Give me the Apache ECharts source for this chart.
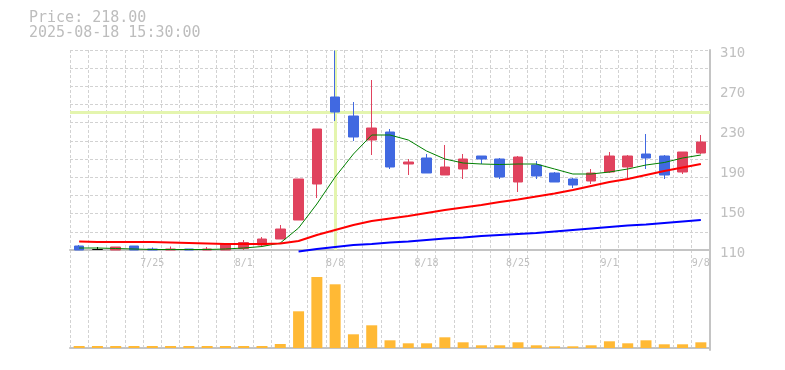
<!DOCTYPE html>
<html>
<head>
<meta charset="utf-8">
<script src="https://cdn.jsdelivr.net/npm/echarts@6/dist/echarts.min.js"></script>
<style>
html,body{margin:0;padding:0;background:#fff;}
#chart{width:785px;height:370px;}
</style>
</head>
<body>
<div id="chart"></div>
<script>
var dates = ['7/18','7/22','7/23','7/24','7/25','7/28','7/29','7/30','7/31','8/1',
  '8/4','8/5','8/6','8/7','8/8','8/12','8/13','8/14','8/15','8/18',
  '8/19','8/20','8/21','8/22','8/25','8/26','8/27','8/28','8/29','9/1',
  '9/2','9/3','9/4','9/5','9/8'];
var opens  = [114,110.5,110,114,111,110,111,110,110,111.5,115,121,140,176,263,244,220,228,196,202,185,191,204,201,178,195,187,181,179,188,193,206,204,188,207];
var closes = [110,110.5,113,110,110,111,110,111,115.5,117.5,121,131,181,231,248,223,232,193,198,187,193,201,201,183,203,184,178,175,187,204,204,202,185,208,218];
var lows   = [110,110,110,110,110,110,110,110,110,110,113.5,121,140,162,239,219,205,191,185,187,185,181,196,181,168,181,178,172,176,187,181,191,181,186,206];
var highs  = [115,113,113,114,112.5,113.5,111,113,115.5,120,123,135,181,231,309.5,258,280,231,201,206,215,206,204,202,204,199,188,182,191,208,205,226,205,208,225];
var maShort = [112,112,111.5,111,110.5,110.5,110.5,110.5,111,112,113.5,117,132,156,183,206,225,225,220,209,201,197,196,195.5,196,196,191,186,186,188,191,195,197.5,202,205];
var maMid   = [118.5,118,118,118,118,117.5,117,116.5,116,116,116,116.5,119,125,130,135,139,141.5,144,147,150,152.5,155,158,160.5,163.5,166.5,170,174,178,181,185,189,192.5,196];
var maLong  = [null,null,null,null,null,null,null,null,null,null,null,null,108.5,111,113,115,116,117.5,118.5,120,121.5,122.5,124,125,126,127,128.5,130,131.5,133,134.5,135.5,137,138.5,140];
var volumes = [20,20,20,20,20,20,20,20,20,20,20,40,367,710,637,137,227,77,47,47,107,57,27,27,57,27,17,17,27,67,47,77,37,37,57];
var priceTicks = {min:110, max:310, step:40};
var cursor = {date:'8/8', price:248, label:'Price: 218.00', time:'2025-08-18 15:30:00'};

var FONT = 'DejaVu Sans Mono';
var gridDash = {color:'#d2d2d2', type:[3,2], width:1};
var axisGray = '#c4c4c4';

var chart = echarts.init(document.getElementById('chart'), null, {renderer:'canvas'});
var ohlc = dates.map(function(d,i){ return [opens[i], closes[i], lows[i], highs[i]]; });

chart.setOption({
  animation:false,
  backgroundColor:'#fff',
  title:{
    text: cursor.label + '\n' + cursor.time,
    left:29, top:11, padding:0,
    textStyle:{fontFamily:FONT, fontSize:15, fontWeight:'normal', color:'#bdbdbd', lineHeight:15}
  },
  grid:[
    {left:70, right:75, top:50, height:200},
    {left:70, right:75, top:250, height:100}
  ],
  xAxis:[
    {type:'category', gridIndex:0, data:dates, boundaryGap:true,
     axisLine:{show:true, lineStyle:{color:axisGray, width:2}},
     axisTick:{show:false, interval:0},
     axisLabel:{interval:function(i){return i%5===4;}, color:'#c0c0c0', fontFamily:FONT, fontSize:10, margin:8},
     splitLine:{show:true, interval:0, lineStyle:gridDash}},
    {type:'category', gridIndex:1, data:dates, boundaryGap:true,
     axisLine:{show:true, lineStyle:{color:axisGray, width:2}},
     axisTick:{show:false}, axisLabel:{show:false},
     splitLine:{show:true, interval:0, lineStyle:gridDash}}
  ],
  yAxis:[
    {type:'value', gridIndex:0, position:'right', min:priceTicks.min, max:priceTicks.max, interval:priceTicks.step,
     axisLine:{show:true, lineStyle:{color:axisGray, width:2}},
     axisTick:{show:false}, splitLine:{show:false},
     axisLabel:{color:'#c0c0c0', fontFamily:FONT, fontSize:14, margin:10, verticalAlign:'top', lineHeight:6}},
    {type:'value', gridIndex:0, position:'left', min:0, max:11, interval:1,
     axisLine:{show:false}, axisTick:{show:false}, axisLabel:{show:false},
     splitLine:{show:true, lineStyle:gridDash}},
    {type:'value', gridIndex:1, position:'right', min:-20, max:980,
     axisLine:{show:true, lineStyle:{color:axisGray, width:2}},
     axisTick:{show:false}, axisLabel:{show:false}, splitLine:{show:false}}
  ],
  series:[
    {type:'line', xAxisIndex:0, yAxisIndex:0, data:[], z:1, silent:true,
     markLine:{silent:true, z:1, symbol:['none','none'], label:{show:false},
       lineStyle:{color:'#e4f5ae', width:3, type:'solid'},
       data:[{xAxis:cursor.date},{yAxis:cursor.price}]}},
    {type:'candlestick', xAxisIndex:0, yAxisIndex:0, data:ohlc, barWidth:10, z:3,
     itemStyle:{color:'#e0435e', color0:'#4169e1', borderColor:'#e0435e', borderColor0:'#4169e1', borderColorDoji:'#000000', borderWidth:1}},
    {type:'line', xAxisIndex:0, yAxisIndex:0, data:maShort, showSymbol:false, clip:false, z:4,
     lineStyle:{color:'#008000', width:1}},
    {type:'line', xAxisIndex:0, yAxisIndex:0, data:maMid, showSymbol:false, clip:false, z:4,
     lineStyle:{color:'#ff0000', width:2}},
    {type:'line', xAxisIndex:0, yAxisIndex:0, data:maLong, showSymbol:false, clip:false, z:4,
     lineStyle:{color:'#0000ff', width:2}},
    {type:'bar', xAxisIndex:1, yAxisIndex:2, data:volumes, barWidth:11,
     itemStyle:{color:'#ffb935'}}
  ]
});
</script>
</body>
</html>
